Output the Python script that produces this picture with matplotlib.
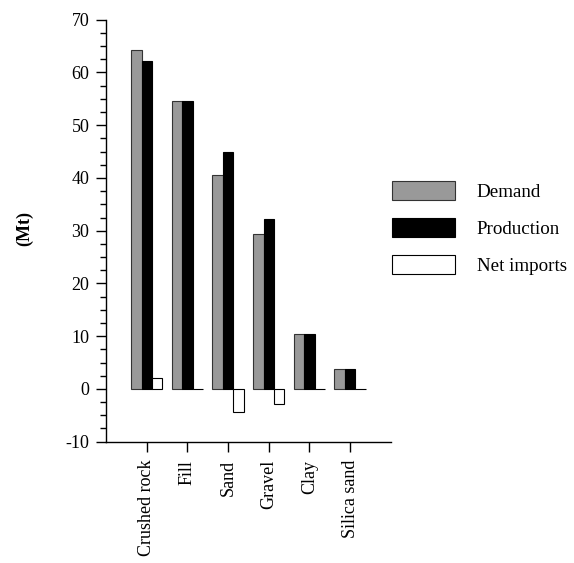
import matplotlib
matplotlib.use("Agg")
import matplotlib.pyplot as plt
import numpy as np
from matplotlib.ticker import MultipleLocator

categories = ["Crushed rock", "Fill", "Sand", "Gravel", "Clay", "Silica sand"]
demand = [64.3, 54.5, 40.5, 29.3, 10.4, 3.7]
production = [62.2, 54.5, 44.9, 32.3, 10.4, 3.7]
net_imports = [2.1, 0.0, -4.4, -2.85, 0.0, 0.0]

plt.rcParams["font.family"] = ["Liberation Serif", "DejaVu Serif"]
plt.rcParams["font.size"] = 13
plt.rcParams["axes.unicode_minus"] = False

fig = plt.figure(figsize=(5.74, 5.63), dpi=100)
ax = fig.add_axes([0.1847, 0.2155, 0.496, 0.7495])

x = np.arange(len(categories))
w = 0.255
ax.bar(x - w, demand, w, color="#999999", edgecolor="#333333", linewidth=0.8, label="Demand")
ax.bar(x, production, w, color="black", edgecolor="black", linewidth=0.8, label="Production")
ax.bar(x + w, net_imports, w, color="white", edgecolor="black", linewidth=0.8, label="Net imports")

ax.set_xlim(-1, 6)
ax.set_ylim(-10, 70)
ax.yaxis.set_major_locator(MultipleLocator(10))
ax.yaxis.set_minor_locator(MultipleLocator(2.5))
ax.set_xticks(x)
ax.set_xticklabels(categories, rotation=90)

for s in ["top", "right"]:
    ax.spines[s].set_visible(False)
ax.spines["left"].set_linewidth(1.0)
ax.spines["bottom"].set_linewidth(1.0)
ax.tick_params(axis="y", which="major", length=7, width=1, pad=5)
ax.tick_params(axis="y", which="minor", length=4, width=1)
ax.tick_params(axis="x", length=7, width=1, pad=6)

fig.text(25 / 574, 1 - 229 / 563, "(Mt)", rotation=90, ha="center", va="center",
         fontweight="bold", fontsize=13)

fig.legend(loc="upper left", bbox_to_anchor=(392 / 574, 1 - 181 / 563),
           frameon=False, borderpad=0, borderaxespad=0,
           handlelength=3.3, handleheight=1.12, labelspacing=0.92,
           handletextpad=1.15, fontsize=13.7)

fig.savefig("out.png", dpi=100)
